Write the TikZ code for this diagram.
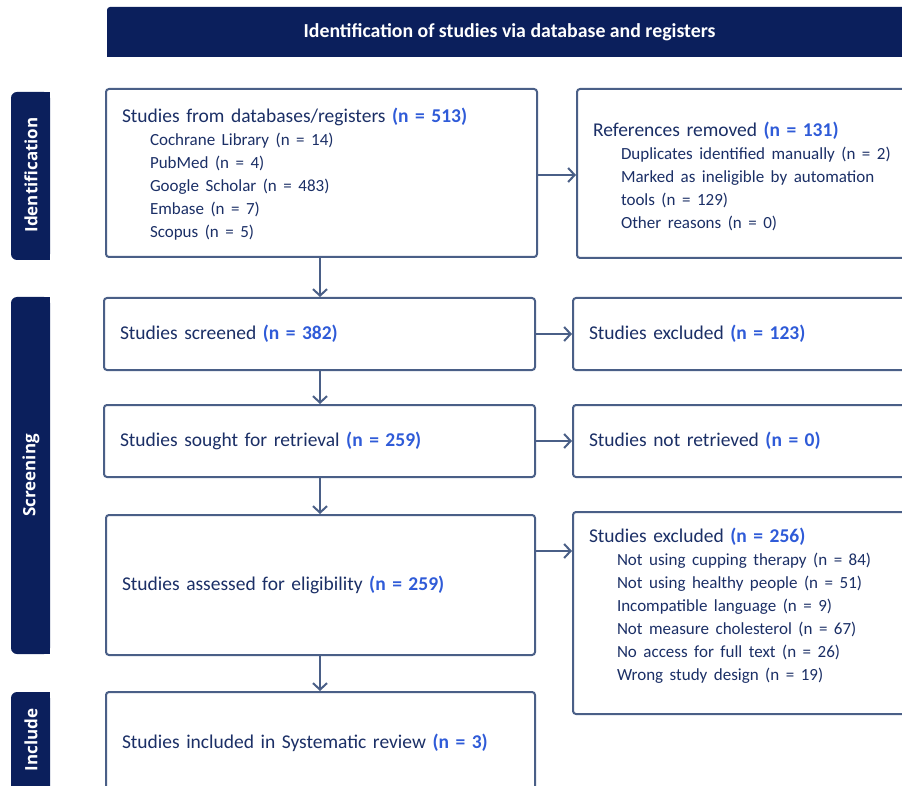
\documentclass[tikz,border=0pt]{standalone}
\usepackage{fontspec}
\setmainfont{Carlito}
\newfontfamily\sidefont{Open Sans}
\usetikzlibrary{arrows.meta}
\definecolor{navy}{HTML}{0B1F5C}
\definecolor{bordc}{HTML}{4A5F87}
\definecolor{txtc}{HTML}{1B2F66}
\definecolor{nblue}{HTML}{2F5BD8}
\setlength\parindent{0pt}
\newcommand{\nb}[1]{\textbf{\color{nblue}#1}}
\newcommand{\mainsz}{\fontsize{19.5}{24}\selectfont}
\newcommand{\subsz}{\fontsize{17}{23}\selectfont\leftskip=28pt}
\tikzset{
  box/.style={draw=bordc, line width=2pt, rounded corners=3pt, fill=white,
    anchor=north west, text=txtc, align=left, inner xsep=16pt, inner ysep=0pt,
    font=\mainsz},
  sidetxt/.style={rotate=90, text=white, font=\sidefont\bfseries\fontsize{17}{19}\selectfont},
  arr/.style={draw=bordc, line width=2pt, -{Straight Barb[length=6.5pt,width=14pt]}}
}
\begin{document}
\begin{tikzpicture}[x=1pt,y=-1pt]
\useasboundingbox (0,0) rectangle (902,786);
\clip (0,0) rectangle (902,786);
% header
\fill[navy, rounded corners=3pt] (107,7) rectangle (912,57);
\fill[navy] (107,30) rectangle (912,57);
\fill[navy] (300,7) rectangle (912,57);
\node[text=white, font=\bfseries\fontsize{19.8}{22}\selectfont] (hdr) at (509.5,32) {Identification of studies via database and registers};
% side labels
\fill[navy, rounded corners=6pt] (11,92) rectangle (50,260);
\fill[navy] (30,92) rectangle (50,260);
\node[sidetxt] (sid1) at (31,175) {Identification};
\fill[navy, rounded corners=6pt] (11,297) rectangle (50,654);
\fill[navy] (30,297) rectangle (50,654);
\node[sidetxt] (sid2) at (31,475.5) {Screening};
\fill[navy, rounded corners=6pt] (11,692) rectangle (50,800);
\fill[navy] (30,692) rectangle (50,800);
\node[sidetxt] (sid3) at (31,740) {Include};
% boxes
\node[box, text width=399pt, minimum height=168pt] (db) at (105,88)
 {Studies from databases/registers \nb{(n = 513)}\par
  \subsz Cochrane Library (n = 14)\par PubMed (n = 4)\par Google Scholar (n = 483)\par Embase (n = 7)\par Scopus (n = 5)\par\vspace*{-3pt}};
\node[box, text width=320pt, minimum height=169pt] (rem) at (576,88)
 {References removed \nb{(n = 131)}\par
  \subsz Duplicates identified manually (n = 2)\par Marked as ineligible by automation\par tools (n = 129)\par Other reasons (n = 0)\par\vspace*{-6pt}};
\node[box, text width=399pt, minimum height=72pt] (scr) at (103,297)
 {Studies screened \nb{(n = 382)}};
\node[box, text width=320pt, minimum height=72pt] (exc) at (572,297)
 {Studies excluded \nb{(n = 123)}};
\node[box, text width=399pt, minimum height=72pt] (sou) at (103,404)
 {Studies sought for retrieval \nb{(n = 259)}};
\node[box, text width=320pt, minimum height=72pt] (nret) at (572,404)
 {Studies not retrieved \nb{(n = 0)}};
\node[box, text width=397pt, minimum height=140pt] (ass) at (105,514)
 {Studies assessed for eligibility \nb{(n = 259)}};
\node[box, text width=320pt, minimum height=202pt, inner ysep=0pt] (exc2) at (572,511)
 {Studies excluded \nb{(n = 256)}\par
  \subsz Not using cupping therapy (n = 84)\par Not using healthy people (n = 51)\par Incompatible language (n = 9)\par Not measure cholesterol (n = 67)\par No access for full text (n = 26)\par Wrong study design (n = 19)\par\vspace*{14pt}};
\node[box, text width=397pt, minimum height=102pt] (inc) at (105,691)
 {Studies included in Systematic review \nb{(n = 3)}};
% arrows
\draw[arr] (db.east |- 0,175) -- (rem.west |- 0,175);
\draw[arr] (db.south -| 320,0) -- (scr.north -| 320,0);
\draw[arr] (scr.south -| 320,0) -- (sou.north -| 320,0);
\draw[arr] (sou.south -| 320,0) -- (ass.north -| 320,0);
\draw[arr] (ass.south -| 320,0) -- (inc.north -| 320,0);
\draw[arr] (scr) -- (exc.west |- scr);
\draw[arr] (sou) -- (nret.west |- sou);
\draw[arr] (ass.east |- 0,551) -- (exc2.west |- 0,551);
\end{tikzpicture}
\end{document}
